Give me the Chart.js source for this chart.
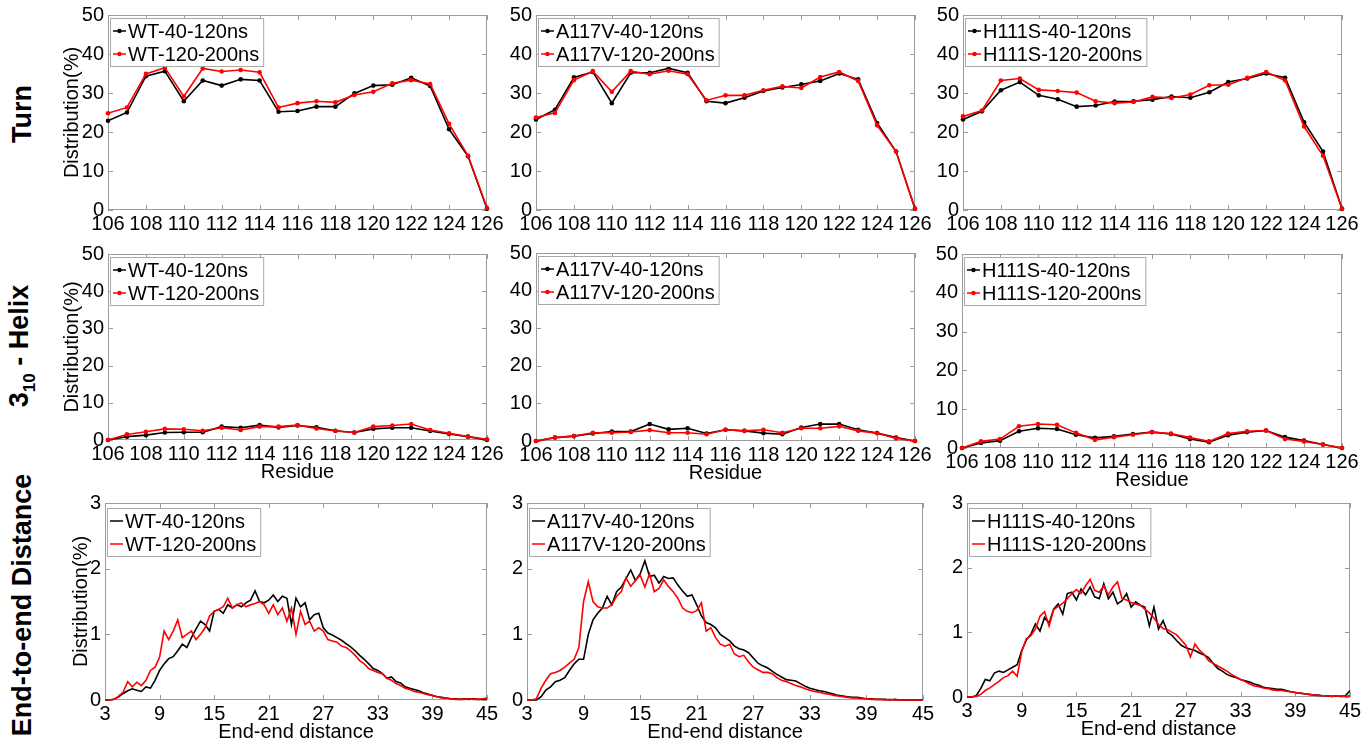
<!DOCTYPE html>
<html>
<head>
<meta charset="utf-8">
<script src="https://cdn.jsdelivr.net/npm/chart.js@4.4.0/dist/chart.umd.min.js"></script>
<style>
  body { margin: 0; background: #fff; width: 1369px; height: 744px; overflow: hidden; position: relative;
         font-family: "Liberation Sans", Arial, sans-serif; }
  .panel { position: absolute; }
  .row-label { position: absolute; font-weight: bold; font-size: 27px; white-space: nowrap; color: #000;
               transform: translate(-50%, -50%) rotate(-90deg); }
  .row-label sub { font-size: 17px; }
</style>
</head>
<body>
<div class="row-label" style="left:22px;top:114px">Turn</div>
<div class="row-label" style="left:22px;top:346px">3<sub>10</sub> - Helix</div>
<div class="row-label" style="left:22px;top:605px">End-to-end Distance</div>

<script>
// residue numbers for the secondary-structure rows
const residues = [106, 107, 108, 109, 110, 111, 112, 113, 114, 115, 116, 117, 118, 119, 120, 121, 122, 123, 124, 125, 126];

// Turn distribution (%)
const turnWT40 = [22.9, 25.0, 34.3, 35.6, 27.9, 33.2, 31.9, 33.5, 33.2, 25.2, 25.4, 26.5, 26.5, 29.9, 31.9, 32.1, 33.9, 31.8, 20.7, 13.8, 0.3];
const turnWT120 = [24.8, 26.3, 34.9, 36.5, 29.1, 36.3, 35.5, 35.9, 35.3, 26.3, 27.4, 27.9, 27.6, 29.5, 30.3, 32.5, 33.3, 32.3, 22.1, 13.9, 0.5];
const turnA40 = [23.2, 25.7, 34.0, 35.4, 27.4, 35.2, 35.2, 36.3, 35.2, 27.9, 27.4, 28.8, 30.5, 31.4, 32.2, 33.1, 35.0, 33.5, 22.3, 15.0, 0.3];
const turnA120 = [23.7, 24.9, 33.3, 35.6, 30.3, 35.6, 34.8, 35.7, 34.8, 28.1, 29.4, 29.4, 30.7, 31.7, 31.3, 34.1, 35.4, 33.1, 21.7, 15.0, 0.3];
const turnH40 = [23.2, 25.3, 30.7, 32.8, 29.4, 28.4, 26.5, 26.8, 27.8, 27.9, 28.3, 29.1, 28.8, 30.2, 32.8, 33.7, 35.0, 33.9, 22.5, 15.0, 0.3];
const turnH120 = [24.0, 25.5, 33.2, 33.7, 30.8, 30.5, 30.1, 27.9, 27.4, 27.7, 29.0, 28.7, 29.6, 32.0, 32.1, 33.9, 35.4, 33.2, 21.4, 13.9, 0.3];

// 3-10 helix distribution (%)
const helixWT40 = [0, 0.9, 1.3, 2.0, 2.1, 2.1, 3.6, 3.3, 4.0, 3.4, 3.9, 3.4, 2.5, 2.0, 3.0, 3.3, 3.3, 2.4, 1.6, 0.9, 0];
const helixWT120 = [0, 1.5, 2.2, 3.0, 2.9, 2.5, 3.3, 2.7, 3.6, 3.6, 4.0, 3.1, 2.4, 2.0, 3.6, 3.9, 4.3, 2.7, 1.8, 0.9, 0.2];
const helixA40 = [0, 0.9, 1.3, 2.0, 2.5, 2.5, 4.5, 3.1, 3.4, 2.0, 3.0, 2.7, 2.1, 1.8, 3.6, 4.5, 4.5, 3.0, 2.1, 0.9, 0];
const helixA120 = [0, 0.9, 1.3, 2.2, 2.2, 2.4, 2.9, 2.2, 2.2, 1.8, 3.0, 2.7, 3.0, 2.2, 3.4, 3.4, 3.9, 2.7, 2.1, 0.7, 0];
const helixH40 = [0, 1.3, 1.9, 4.3, 5.1, 4.9, 3.4, 2.6, 3.0, 3.6, 4.1, 3.6, 2.3, 1.5, 3.3, 4.1, 4.5, 2.8, 1.9, 0.9, 0];
const helixH120 = [0, 1.7, 2.3, 5.6, 6.2, 6.0, 3.9, 2.1, 2.8, 3.4, 4.1, 3.7, 2.7, 1.7, 3.7, 4.3, 4.5, 2.3, 1.7, 0.9, 0];

// end-to-end distance bins, 3 to 45 in steps of 0.5
const distance = Array.from({ length: 85 }, (_, i) => 3 + i * 0.5);

const distWT40 = [
  0, 0, 0.01, 0.05, 0.10, 0.14, 0.17, 0.15, 0.13, 0.20,
  0.18, 0.30, 0.45, 0.55, 0.63, 0.66, 0.75, 0.85, 0.80, 0.95,
  1.08, 1.20, 1.15, 1.05, 1.35, 1.38, 1.32, 1.45, 1.40, 1.45,
  1.42, 1.48, 1.52, 1.66, 1.50, 1.48, 1.52, 1.60, 1.50, 1.58,
  1.55, 1.15, 1.55, 1.42, 1.48, 1.22, 1.30, 1.32, 1.10, 1.02,
  0.99, 0.95, 0.91, 0.86, 0.81, 0.75, 0.68, 0.62, 0.55, 0.48,
  0.45, 0.40, 0.33, 0.35, 0.28, 0.26, 0.20, 0.18, 0.16, 0.14,
  0.11, 0.09, 0.07, 0.05, 0.04, 0.03, 0.02, 0.02, 0.01, 0.02,
  0.01, 0.02, 0.01, 0.01, 0.02];
const distWT120 = [
  0, 0, 0.01, 0.06, 0.12, 0.28, 0.20, 0.27, 0.22, 0.30,
  0.45, 0.50, 0.65, 1.05, 0.92, 1.05, 1.22, 0.95, 1.00, 1.05,
  0.92, 1.00, 1.10, 1.28, 1.35, 1.38, 1.42, 1.55, 1.40, 1.45,
  1.48, 1.42, 1.45, 1.47, 1.50, 1.45, 1.32, 1.45, 1.30, 1.40,
  1.20, 1.40, 1.00, 1.35, 1.15, 1.20, 1.05, 1.10, 1.05, 0.92,
  0.90, 0.88, 0.82, 0.80, 0.75, 0.68, 0.60, 0.55, 0.48, 0.45,
  0.42, 0.40, 0.33, 0.30, 0.25, 0.22, 0.18, 0.16, 0.13, 0.12,
  0.10, 0.08, 0.07, 0.05, 0.03, 0.03, 0.02, 0.01, 0.01, 0.01,
  0.02, 0.01, 0.01, 0.02, 0.03];
const distA40 = [
  0, 0, 0, 0.05, 0.15, 0.20, 0.28, 0.30, 0.34, 0.45,
  0.55, 0.62, 0.62, 1.00, 1.22, 1.32, 1.40, 1.58, 1.45, 1.65,
  1.72, 1.85, 1.98, 1.82, 1.92, 2.12, 1.88, 1.90, 1.78, 1.88,
  1.85, 1.86, 1.75, 1.66, 1.58, 1.60, 1.45, 1.28, 1.18, 1.15,
  1.10, 1.00, 0.95, 0.90, 0.82, 0.78, 0.76, 0.72, 0.64, 0.56,
  0.52, 0.49, 0.44, 0.39, 0.35, 0.31, 0.30, 0.29, 0.25, 0.21,
  0.18, 0.16, 0.14, 0.13, 0.11, 0.09, 0.07, 0.06, 0.05, 0.04,
  0.04, 0.03, 0.02, 0.02, 0.01, 0.01, 0.01, 0, 0.01, 0,
  0, 0, 0, 0, 0];
const distA120 = [
  0, 0, 0.02, 0.18, 0.30, 0.40, 0.42, 0.45, 0.50, 0.56,
  0.62, 0.80, 1.50, 1.80, 1.50, 1.42, 1.40, 1.40, 1.45, 1.58,
  1.65, 1.86, 1.73, 1.82, 1.90, 1.72, 1.92, 1.65, 1.70, 1.83,
  1.73, 1.65, 1.55, 1.40, 1.35, 1.33, 1.36, 1.48, 1.05, 1.10,
  0.95, 0.85, 0.82, 0.85, 0.70, 0.66, 0.68, 0.58, 0.50, 0.46,
  0.42, 0.42, 0.40, 0.34, 0.30, 0.28, 0.25, 0.22, 0.20, 0.17,
  0.15, 0.13, 0.12, 0.10, 0.09, 0.07, 0.06, 0.05, 0.04, 0.03,
  0.03, 0.02, 0.02, 0.01, 0.01, 0.01, 0, 0.01, 0, 0,
  0, 0, 0, 0, 0];
const distH40 = [
  0, 0, 0.02, 0.13, 0.27, 0.25, 0.37, 0.40, 0.38, 0.42,
  0.46, 0.50, 0.72, 0.88, 0.97, 1.13, 1.02, 1.23, 1.14, 1.36,
  1.44, 1.28, 1.60, 1.62, 1.50, 1.67, 1.58, 1.70, 1.55, 1.52,
  1.75, 1.52, 1.62, 1.44, 1.49, 1.60, 1.39, 1.47, 1.42, 1.39,
  1.10, 1.39, 1.05, 1.18, 1.00, 0.95, 0.87, 0.80, 0.76, 0.74,
  0.72, 0.68, 0.65, 0.61, 0.52, 0.44, 0.40, 0.35, 0.32, 0.30,
  0.27, 0.25, 0.23, 0.20, 0.18, 0.15, 0.14, 0.13, 0.12, 0.12,
  0.10, 0.08, 0.07, 0.06, 0.05, 0.04, 0.03, 0.03, 0.02, 0.02,
  0.01, 0.02, 0.01, 0.02, 0.10];
const distH120 = [
  0, 0, 0.01, 0.04, 0.10, 0.14, 0.19, 0.24, 0.30, 0.33,
  0.40, 0.32, 0.70, 0.90, 0.95, 1.05, 1.25, 1.32, 1.10, 1.35,
  1.40, 1.45, 1.52, 1.60, 1.66, 1.60, 1.72, 1.82, 1.65, 1.62,
  1.72, 1.58, 1.70, 1.78, 1.52, 1.50, 1.46, 1.44, 1.42, 1.36,
  1.30, 1.22, 1.12, 1.06, 1.04, 1.00, 0.96, 0.88, 0.80, 0.62,
  0.82, 0.72, 0.66, 0.56, 0.52, 0.48, 0.44, 0.40, 0.35, 0.31,
  0.27, 0.24, 0.20, 0.17, 0.16, 0.14, 0.13, 0.11, 0.10, 0.10,
  0.09, 0.08, 0.07, 0.06, 0.05, 0.04, 0.03, 0.02, 0.02, 0.02,
  0.01, 0.02, 0.01, 0.01, 0.02];

const variants = ['WT', 'A117V', 'H111S'];

// plot-area rectangles [left, top, right, bottom] for each row / column
const plotBoxes = [
  [[108, 15, 487, 210], [536, 15, 915, 210], [963, 15, 1342, 210]],
  [[108, 254, 487, 440], [536, 253, 915, 441], [962, 254, 1342, 448]],
  [[105, 503, 487, 700], [527, 503, 923, 700], [967, 503, 1350, 697]]
];

const rows = [
  { x: residues, series: [[turnWT40, turnWT120], [turnA40, turnA120], [turnH40, turnH120]],
    xMin: 106, xMax: 126, xStep: 2, yMax: 50, yStep: 10, markers: true, xTitle: '', yTitlePad: 14 },
  { x: residues, series: [[helixWT40, helixWT120], [helixA40, helixA120], [helixH40, helixH120]],
    xMin: 106, xMax: 126, xStep: 2, yMax: 50, yStep: 10, markers: true, xTitle: 'Residue', yTitlePad: 14 },
  { x: distance, series: [[distWT40, distWT120], [distA40, distA120], [distH40, distH120]],
    xMin: 3, xMax: 45, xStep: 6, yMax: 3, yStep: 1, markers: false, xTitle: 'End-end distance', yTitlePad: 26 }
];

const FONT = '"Liberation Sans", Arial, sans-serif';
// room around the plot area; generous enough that edge tick labels don't shrink it
const PAD = { left: 62, top: 22, right: 26, bottom: 50 };

Chart.defaults.color = '#000';
Chart.defaults.font.family = FONT;

// MATLAB-like axes: grey box with inward tick marks on all four sides
const boxTicks = {
  id: 'boxTicks',
  beforeDatasetsDraw(chart) {
    const { ctx, chartArea: a, scales: { x, y } } = chart;
    ctx.save();
    ctx.strokeStyle = '#9c9c9c';
    ctx.lineWidth = 1;
    ctx.strokeRect(a.left + 0.5, a.top + 0.5, a.right - a.left - 1, a.bottom - a.top - 1);
    ctx.beginPath();
    x.ticks.forEach(t => {
      const px = Math.round(x.getPixelForValue(t.value)) + 0.5;
      ctx.moveTo(px, a.bottom); ctx.lineTo(px, a.bottom - 5);
      ctx.moveTo(px, a.top); ctx.lineTo(px, a.top + 5);
    });
    y.ticks.forEach(t => {
      const py = Math.round(y.getPixelForValue(t.value)) + 0.5;
      ctx.moveTo(a.left, py); ctx.lineTo(a.left + 5, py);
      ctx.moveTo(a.right, py); ctx.lineTo(a.right - 5, py);
    });
    ctx.stroke();
    ctx.restore();
  }
};

// boxed legend drawn in the upper-left corner of the plot area
const boxLegend = {
  id: 'boxLegend',
  afterDatasetsDraw(chart, args, opts) {
    const { ctx, chartArea: a } = chart;
    const sets = chart.data.datasets;
    ctx.save();
    ctx.font = '20px ' + FONT;
    const textW = Math.max(...sets.map(d => ctx.measureText(d.label).width));
    const bx = a.left + 2, by = a.top + opts.top;
    const bw = 18 + textW + 4, bh = 48;
    ctx.fillStyle = '#fff';
    ctx.fillRect(bx, by, bw, bh);
    ctx.strokeStyle = '#a8a8a8';
    ctx.lineWidth = 1;
    ctx.strokeRect(bx + 0.5, by + 0.5, bw, bh);
    sets.forEach((d, i) => {
      const cy = by + 13 + i * 23;
      ctx.strokeStyle = d.borderColor;
      ctx.lineWidth = 1.5;
      ctx.beginPath();
      ctx.moveTo(bx + 3, cy); ctx.lineTo(bx + 16, cy);
      ctx.stroke();
      if (opts.markers) {
        ctx.fillStyle = d.borderColor;
        ctx.beginPath();
        ctx.arc(bx + 9.5, cy, 2.2, 0, Math.PI * 2);
        ctx.fill();
      }
      ctx.fillStyle = '#000';
      ctx.textBaseline = 'middle';
      ctx.fillText(d.label, bx + 18, cy + 1);
    });
    ctx.restore();
  }
};

function makePanel(r, c) {
  const row = rows[r];
  const [l, t, rt, b] = plotBoxes[r][c];
  const w = PAD.left + (rt - l) + PAD.right;
  const h = PAD.top + (b - t) + PAD.bottom;

  const div = document.createElement('div');
  div.className = 'panel';
  div.style.left = (l - PAD.left) + 'px';
  div.style.top = (t - PAD.top) + 'px';
  const canvas = document.createElement('canvas');
  canvas.width = w;
  canvas.height = h;
  canvas.style.width = w + 'px';
  canvas.style.height = h + 'px';
  div.appendChild(canvas);
  document.body.appendChild(div);

  const [early, late] = row.series[c];
  const toPoints = vals => row.x.map((xv, i) => ({ x: xv, y: vals[i] }));
  const line = (label, vals, color, order) => ({
    label, data: toPoints(vals), borderColor: color, backgroundColor: color,
    borderWidth: 1.6, pointRadius: row.markers ? 2.3 : 0, pointBorderWidth: 0,
    tension: 0, clip: false, order
  });

  new Chart(canvas, {
    type: 'line',
    data: {
      datasets: [
        line(variants[c] + '-40-120ns', early, '#000', 1),
        line(variants[c] + '-120-200ns', late, '#ff0000', 0)
      ]
    },
    options: {
      responsive: false,
      animation: false,
      devicePixelRatio: 1,
      layout: { padding: { left: 0, top: PAD.top, right: PAD.right, bottom: 0 } },
      plugins: {
        legend: { display: false },
        tooltip: { enabled: false },
        boxLegend: { markers: row.markers, top: r === 2 ? 5 : 3 }
      },
      scales: {
        x: {
          type: 'linear', min: row.xMin, max: row.xMax,
          grid: { display: false, drawTicks: false },
          border: { display: false },
          ticks: { stepSize: row.xStep, padding: 2, maxRotation: 0, autoSkip: false, font: { size: 20 } },
          title: { display: row.xTitle !== '', text: row.xTitle, font: { size: 20 }, padding: { top: 0, bottom: 6 } },
          afterFit(scale) { scale.height = PAD.bottom; }
        },
        y: {
          min: 0, max: row.yMax,
          grid: { display: false, drawTicks: false },
          border: { display: false },
          ticks: { stepSize: row.yStep, padding: 4, font: { size: 20 } },
          title: { display: c === 0, text: 'Distribution(%)', font: { size: 20 }, padding: { top: row.yTitlePad, bottom: 0 } },
          afterFit(scale) { scale.width = PAD.left; }
        }
      }
    },
    plugins: [boxTicks, boxLegend]
  });
}

for (let r = 0; r < 3; r++) {
  for (let c = 0; c < 3; c++) makePanel(r, c);
}
</script>
</body>
</html>
